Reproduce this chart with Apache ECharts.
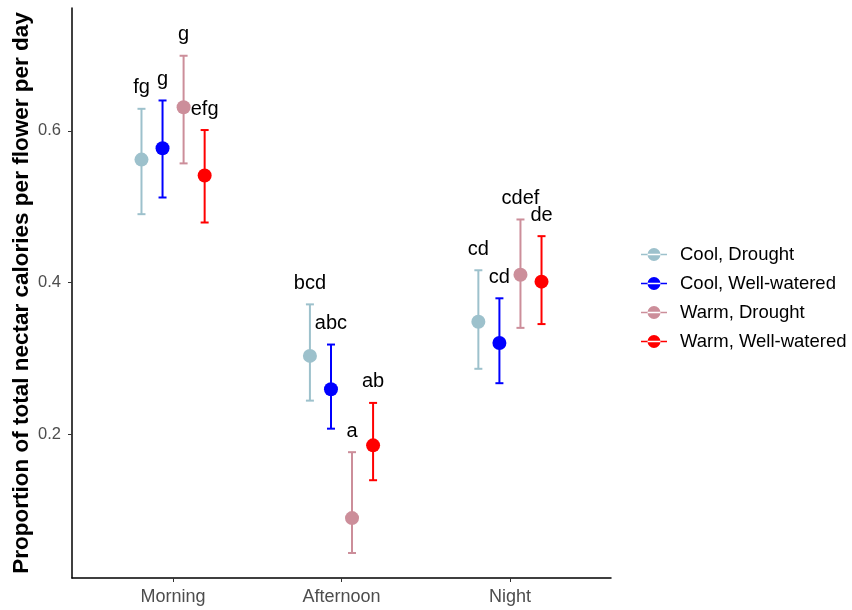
<!DOCTYPE html>
<html>
<head>
<meta charset="utf-8">
<script src="https://cdn.jsdelivr.net/npm/echarts@6/dist/echarts.min.js"></script>
<style>
  html, body { margin: 0; padding: 0; background: #fff; }
  #chart { width: 852px; height: 610px; }
</style>
</head>
<body>
<div id="chart"></div>
<script>
// Time of day on the x axis
const categories = ['Morning', 'Afternoon', 'Night'];
const yTicks = [0.2, 0.4, 0.6];

// Treatment groups and their colours
const groups = ['Cool, Drought', 'Cool, Well-watered', 'Warm, Drought', 'Warm, Well-watered'];
const groupColors = ['#9dc1cc', '#0000ff', '#cc8e9a', '#ff0000'];
const dodge = [-0.1875, -0.0625, 0.0625, 0.1875];

// Means, lower / upper interval bounds and letter groupings (Morning, Afternoon, Night)
const coolDroughtMean  = [0.562, 0.303, 0.348];
const coolDroughtLower = [0.490, 0.244, 0.286];
const coolDroughtUpper = [0.629, 0.371, 0.416];
const coolDroughtLetters = ['fg', 'bcd', 'cd'];

const coolWetMean  = [0.577, 0.259, 0.320];
const coolWetLower = [0.512, 0.207, 0.267];
const coolWetUpper = [0.640, 0.318, 0.379];
const coolWetLetters = ['g', 'abc', 'cd'];

const warmDroughtMean  = [0.631, 0.089, 0.410];
const warmDroughtLower = [0.557, 0.043, 0.340];
const warmDroughtUpper = [0.699, 0.176, 0.483];
const warmDroughtLetters = ['g', 'a', 'cdef'];

const warmWetMean  = [0.541, 0.185, 0.401];
const warmWetLower = [0.479, 0.139, 0.345];
const warmWetUpper = [0.601, 0.241, 0.461];
const warmWetLetters = ['efg', 'ab', 'de'];

const groupMeans   = [coolDroughtMean, coolWetMean, warmDroughtMean, warmWetMean];
const groupLowers  = [coolDroughtLower, coolWetLower, warmDroughtLower, warmWetLower];
const groupUppers  = [coolDroughtUpper, coolWetUpper, warmDroughtUpper, warmWetUpper];
const groupLetters = [coolDroughtLetters, coolWetLetters, warmDroughtLetters, warmWetLetters];

const FONT = '"Liberation Sans", Arial, Helvetica, sans-serif';

function makeSeries(g) {
  const color = groupColors[g];
  const data = categories.map((c, i) => [
    i + 1 + dodge[g], groupMeans[g][i], groupLowers[g][i], groupUppers[g][i], groupLetters[g][i]
  ]);
  return {
    type: 'custom',
    name: groups[g],
    itemStyle: { color: color },
    data: data,
    encode: { x: 0, y: [1, 2, 3] },
    renderItem: function (params, api) {
      const x = api.value(0);
      const mid = api.coord([x, api.value(1)]);
      const lo = api.coord([x, api.value(2)]);
      const hi = api.coord([x, api.value(3)]);
      const cap = 4;
      const lineStyle = { stroke: color, lineWidth: 2 };
      return {
        type: 'group',
        children: [
          { type: 'line', shape: { x1: hi[0], y1: hi[1], x2: lo[0], y2: lo[1] }, style: lineStyle },
          { type: 'line', shape: { x1: hi[0] - cap, y1: hi[1], x2: hi[0] + cap, y2: hi[1] }, style: lineStyle },
          { type: 'line', shape: { x1: lo[0] - cap, y1: lo[1], x2: lo[0] + cap, y2: lo[1] }, style: lineStyle },
          { type: 'circle', shape: { cx: mid[0], cy: mid[1], r: 7 }, style: { fill: color } },
          {
            type: 'text',
            x: hi[0], y: hi[1] - 21,
            style: {
              text: data[params.dataIndex][4],
              fill: '#000', font: '20px ' + FONT,
              align: 'center', verticalAlign: 'middle'
            }
          }
        ]
      };
    }
  };
}

const chart = echarts.init(document.getElementById('chart'), null, { renderer: 'canvas' });

chart.setOption({
  animation: false,
  backgroundColor: '#fff',
  grid: { left: 72, right: 241, top: 8, bottom: 32, containLabel: false, outerBoundsMode: 'none' },
  xAxis: {
    type: 'value',
    min: 0.4, max: 3.6,
    splitLine: { show: false },
    axisLine: { show: true, lineStyle: { color: '#000', width: 1.5 } },
    axisTick: { show: true, customValues: [1, 2, 3], length: 4, lineStyle: { color: '#333', width: 1 } },
    axisLabel: {
      customValues: [1, 2, 3],
      formatter: v => categories[Math.round(v) - 1],
      color: '#4d4d4d', fontSize: 18, fontFamily: FONT, margin: 10
    }
  },
  yAxis: {
    type: 'value',
    min: 0.01, max: 0.762,
    name: 'Proportion of total nectar calories per flower per day',
    nameLocation: 'middle',
    nameGap: 39,
    nameMoveOverlap: false,
    nameTextStyle: { color: '#000', fontSize: 22.5, fontWeight: 'bold', fontFamily: FONT },
    splitLine: { show: false },
    axisLine: { show: true, lineStyle: { color: '#000', width: 1.5 } },
    axisTick: { show: true, customValues: yTicks, length: 4, lineStyle: { color: '#333', width: 1 } },
    axisLabel: {
      customValues: yTicks,
      formatter: v => v.toFixed(1),
      color: '#4d4d4d', fontSize: 16.5, fontFamily: FONT, margin: 11
    }
  },
  legend: {
    orient: 'vertical',
    left: 636, top: 240,
    itemWidth: 26, itemHeight: 13,
    itemGap: 10,
    icon: 'path://M0,5.7h26v1.6h-26z M6.5,6.5a6.5,6.5 0 1,0 13,0a6.5,6.5 0 1,0 -13,0z',
    data: groups,
    textStyle: { color: '#000', fontSize: 18.5, fontFamily: FONT, lineHeight: 18, padding: [0, 0, 0, 8] }
  },
  series: groups.map((g, i) => makeSeries(i))
});
</script>
</body>
</html>
